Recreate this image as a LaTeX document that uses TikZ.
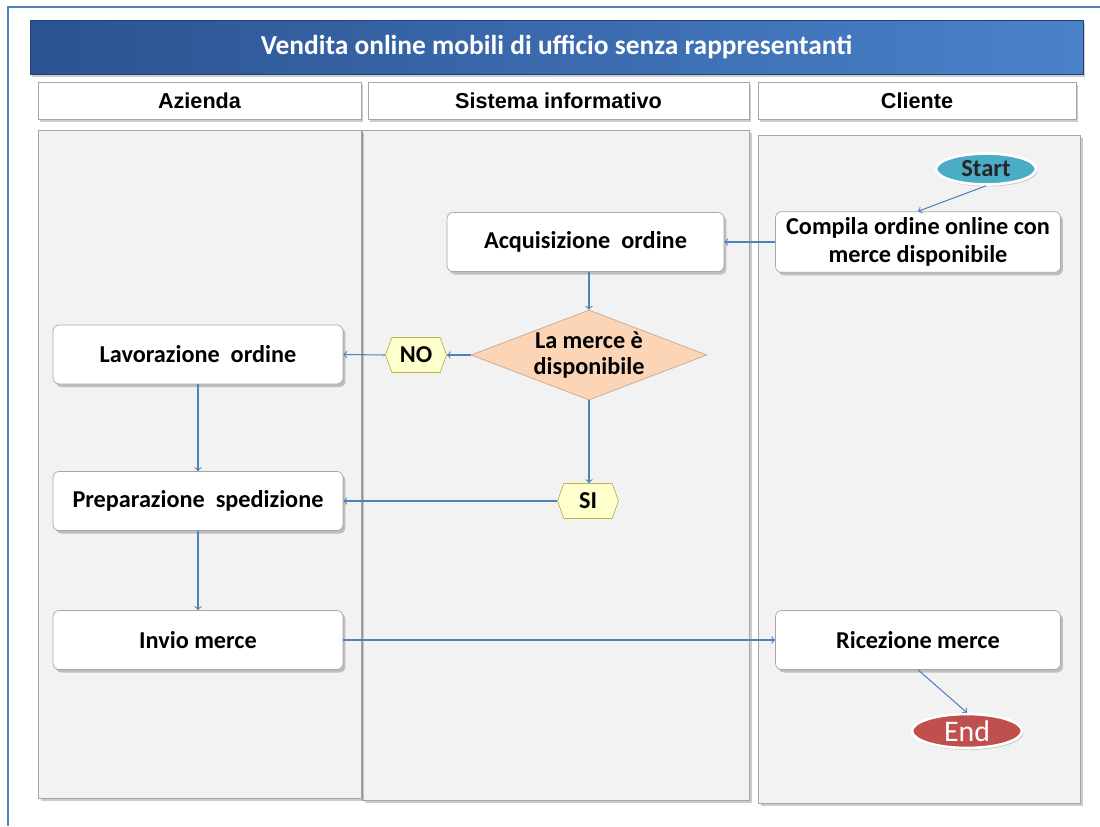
\documentclass[tikz,border=0pt]{standalone}
\usepackage{fontspec}
\setmainfont{Carlito}
\newfontfamily\headfont{Liberation Sans}
\usepackage{xcolor}
\usetikzlibrary{shapes,arrows,positioning,calc,shadows}

\definecolor{frameblue}{HTML}{4F81BD}
\definecolor{titledark}{HTML}{2B5291}
\definecolor{titlelight}{HTML}{4A82CA}
\definecolor{lanegray}{HTML}{F2F2F2}
\definecolor{linegray}{HTML}{A6A6A6}
\definecolor{flowblue}{HTML}{4F81BD}
\definecolor{peach}{HTML}{FBD5B5}
\definecolor{tagyellow}{HTML}{FFFFCC}
\definecolor{startteal}{HTML}{4BACC6}
\definecolor{endred}{HTML}{C0504D}

\begin{document}
\begin{tikzpicture}[
    x=0.02cm, y=-0.02cm,
    lane/.style={rectangle, draw=linegray, fill=lanegray, inner sep=0pt, drop shadow={shadow xshift=0.06cm, shadow yshift=-0.06cm, opacity=0.4}},
    header/.style={rectangle, draw=linegray, fill=white, inner sep=0pt, font=\headfont\fontsize{12.3}{14}\selectfont\bfseries, drop shadow={shadow xshift=0.04cm, shadow yshift=-0.05cm, opacity=0.4}},
    box/.style={rectangle, rounded corners=0.12cm, draw=linegray, fill=white, minimum width=5.7cm, minimum height=1.18cm, align=center, font=\fontsize{13.8}{16}\selectfont\bfseries, drop shadow={shadow xshift=0.05cm, shadow yshift=-0.06cm, opacity=0.45}},
    choice/.style={diamond, aspect=2.6, fill=peach, draw=peach!80!black, inner sep=0pt, minimum width=4.72cm, minimum height=1.8cm, font=\fontsize{13.8}{14.5}\selectfont\bfseries},
    tag/.style={signal, signal to=west and east, signal pointer angle=140, draw=olive!60, fill=tagyellow, minimum width=1.22cm, minimum height=0.7cm, inner sep=0pt, font=\fontsize{13.8}{16}\selectfont\bfseries},
    terminal/.style={ellipse, draw=white, line width=1.5pt, inner sep=0pt, font=\fontsize{14}{16}\selectfont\bfseries, drop shadow={shadow xshift=0.03cm, shadow yshift=-0.04cm, opacity=0.35}},
    arrow/.style={->, >=to, flowblue, line width=0.6pt}
]
    \useasboundingbox (0,0) rectangle (1100,826);

    % Frame
    \draw[frameblue, line width=1pt] (8,826) -- (8,7) -- (1100,7);

    % Title
    \node[rectangle, draw=titledark!80!black, left color=titledark, right color=titlelight, minimum width=21.06cm, minimum height=1.08cm, text=white, font=\fontsize{15.6}{18}\selectfont\bfseries, drop shadow={shadow xshift=0.04cm, shadow yshift=-0.05cm, opacity=0.4}] (title) at (556.5,47) {Vendita online mobili di ufficio senza rappresentanti};

    % Lane headers
    \node[header, minimum width=6.46cm, minimum height=0.74cm] (hazienda) at (199.5,100.5) {Azienda};
    \node[header, minimum width=7.62cm, minimum height=0.74cm] (hsistema) at (558.5,100.5) {Sistema informativo};
    \node[header, minimum width=6.36cm, minimum height=0.74cm] (hcliente) at (917,100.5) {Cliente};

    % Lanes
    \node[lane, minimum width=7.74cm, minimum height=13.4cm] (lsistema) at (555.5,465) {};
    \node[lane, minimum width=6.46cm, minimum height=13.36cm] (lazienda) at (199.5,464) {};
    \node[lane, minimum width=6.44cm, minimum height=13.36cm] (lcliente) at (919,469) {};

    % Process steps
    \node[terminal, fill=startteal, text=black!85, minimum width=2cm, minimum height=0.62cm] (start) at (986,169) {Start};
    \node[box] (compila) at (918,242) {Compila ordine online con\\merce disponibile};
    \node[box, minimum width=5.54cm] (acq) at (585.5,242) {Acquisizione\ \ ordine};
    \node[choice] (disp) at (589,355) {\smash{\raisebox{-0.15cm}{\begin{tabular}{@{}c@{}}La merce è\\disponibile\end{tabular}}}};
    \node[tag] (no) at (416,355) {NO};
    \node[box, minimum width=5.8cm] (lav) at (198,354.5) {Lavorazione\ \ ordine};
    \node[tag] (si) at (588,501) {SI};
    \node[box, minimum width=5.8cm] (prep) at (198,501) {Preparazione\ \ spedizione};
    \node[box, minimum width=5.8cm] (invio) at (198,640) {Invio merce};
    \node[box] (ric) at (918,640) {Ricezione merce};
    \node[terminal, fill=endred, text=white, minimum width=2.2cm, minimum height=0.68cm, font=\fontsize{17}{19}\selectfont] (stop) at (967,731) {End};

    % Flow
    \draw[arrow] (start.south) -- (compila.north);
    \draw[arrow] (compila.west) -- (acq.east);
    \draw[arrow] (acq.south -| disp.north) -- (disp.north);
    \draw[arrow] (disp.west) -- (no.east);
    \draw[arrow] (no.west) -- (lav.east);
    \draw[arrow] (disp.south) -- (si.north -| disp.south);
    \draw[arrow] (si.west) -- (prep.east);
    \draw[arrow] (lav.south) -- (prep.north);
    \draw[arrow] (prep.south) -- (invio.north);
    \draw[arrow] (invio.east) -- (ric.west);
    \draw[arrow] (ric.south) -- (stop.north);
\end{tikzpicture}
\end{document}
